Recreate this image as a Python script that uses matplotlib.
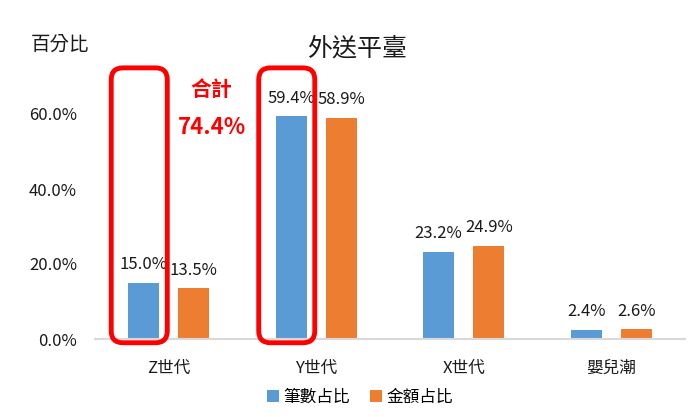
import numpy as np
import matplotlib.pyplot as plt
from matplotlib.patches import FancyBboxPatch

plt.rcParams['font.family'] = ['Noto Sans CJK TC', 'DejaVu Sans']

categories = ['Z世代', 'Y世代', 'X世代', '嬰兒潮']
count_share = [0.150, 0.594, 0.232, 0.024]   # 筆數占比
amount_share = [0.135, 0.589, 0.249, 0.026]  # 金額占比
series_names = ['筆數占比', '金額占比']
highlight = [0, 1]
total_label = '74.4%'

blue = '#5B9BD5'
orange = '#ED7D31'

fig = plt.figure(figsize=(6.91, 4.17), dpi=100)
ax = fig.add_axes([95 / 691, 1 - 339 / 417, 590 / 691, 300 / 417])

x = np.arange(len(categories))
w = 0.21
off = 0.17
b1 = ax.bar(x - off, count_share, w, color=blue, label=series_names[0])
b2 = ax.bar(x + off, amount_share, w, color=orange, label=series_names[1])

for bars in (b1, b2):
    for rect in bars:
        v = rect.get_height()
        ax.annotate(f'{v * 100:.1f}%', (rect.get_x() + rect.get_width() / 2, v),
                    xytext=(0, 7), textcoords='offset points',
                    ha='center', va='bottom', fontsize=12, color='#1a1a1a')

ax.set_xlim(-0.5, len(categories) - 0.5)
ax.set_ylim(0, 0.8)
ax.set_yticks([0, 0.2, 0.4, 0.6])
ax.set_yticklabels([f'{t * 100:.1f}%' for t in [0, 0.2, 0.4, 0.6]])
ax.set_xticks(x)
ax.set_xticklabels(categories)
ax.tick_params(axis='both', length=0, labelsize=12, colors='#1a1a1a')
ax.tick_params(axis='x', pad=15)
ax.tick_params(axis='y', pad=13)
for s in ['top', 'right', 'left']:
    ax.spines[s].set_visible(False)
ax.spines['bottom'].set_color('#d9d9d9')
ax.spines['bottom'].set_linewidth(1.5)

# red rounded frames around the highlighted groups
asp = (0.8 / 300) / (4 / 590)
for i in highlight:
    box = FancyBboxPatch((i - 0.39, -0.01), 0.38, 0.733,
                         boxstyle='round,pad=0,rounding_size=0.08',
                         mutation_aspect=asp, fill=False, edgecolor='#ff0000',
                         linewidth=3.5, clip_on=False, zorder=5)
    ax.add_patch(box)

ax.text(0.29, 0.664, '合計', color='#ff0000', fontsize=15, fontweight='bold',
        ha='center', va='center')
ax.text(0.29, 0.563, total_label, color='#ff0000', fontsize=16, fontweight='bold',
        ha='center', va='center')

fig.text(357 / 691, 1 - 48 / 417, '外送平臺', fontsize=18, ha='center', va='center', color='#1a1a1a')
fig.text(60 / 691, 1 - 44 / 417, '百分比', fontsize=14, ha='center', va='center', color='#1a1a1a')

fig.legend(loc='center', bbox_to_anchor=(360 / 691, 1 - 397 / 417), ncol=2, frameon=False,
           fontsize=12, handlelength=0.7, handleheight=0.7, columnspacing=1.2, handletextpad=0.3)

fig.savefig('out.png', dpi=100)
